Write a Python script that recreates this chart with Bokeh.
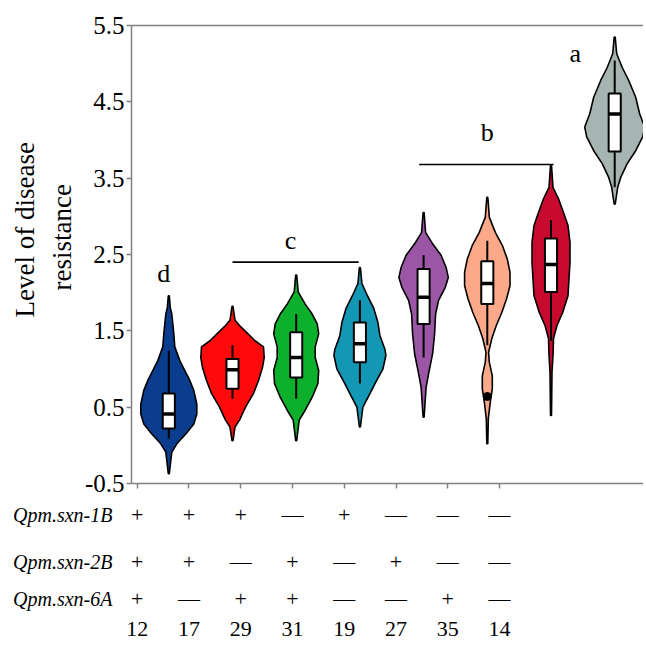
from bokeh.plotting import figure
from bokeh.models import Range1d, FixedTicker, LinearAxis, Title
from bokeh.layouts import column
from bokeh.embed import file_html
from bokeh.resources import INLINE
from bokeh.core.properties import value

# ---------------- data ----------------
counts = [12, 17, 29, 31, 19, 27, 35, 14]
qtl_names = ["Qpm.sxn-1B", "Qpm.sxn-2B", "Qpm.sxn-6A"]
qtl_1B = ["+", "+", "+", "—", "+", "—", "—", "—"]
qtl_2B = ["+", "+", "—", "+", "—", "+", "—", "—"]
qtl_6A = ["+", "—", "+", "+", "—", "—", "+", "—"]
colors = ["#0b3d8e", "#ff0a0a", "#0cb02c", "#1298b4",
          "#9b56a6", "#fca98a", "#c80a2e", "#a7b5b2"]
y_title_lines = ["Level of disease", "resistance"]

# violin profiles: (level, density half-width)
prof_12 = [(1.96, 0.5), (1.80, 1.5), (1.72, 3), (1.46, 5), (1.29, 6), (1.11, 11), (0.98, 16),
           (0.85, 21), (0.72, 25), (0.54, 28), (0.41, 28), (0.28, 25), (0.15, 17),
           (0.02, 8), (-0.09, 3), (-0.37, 0.5)]
prof_17 = [(1.82, 0.5), (1.64, 2.5), (1.57, 7), (1.50, 12.5), (1.37, 22.5), (1.29, 31), (1.15, 31.7),
           (1.02, 30), (0.85, 26), (0.68, 21), (0.50, 13), (0.33, 7), (0.24, 2.5), (0.06, 0.5)]
prof_29 = [(2.23, 0.5), (2.01, 2), (1.85, 9), (1.72, 16), (1.59, 21), (1.46, 22.5), (1.29, 19),
           (1.15, 19), (0.98, 22.5), (0.81, 21.7), (0.63, 16), (0.46, 9), (0.33, 3), (0.06, 0.5)]
prof_31 = [(2.33, 0.5), (2.12, 2), (1.96, 7.5), (1.79, 14), (1.61, 18), (1.44, 20), (1.26, 25),
           (1.18, 26), (1.00, 23), (0.83, 16), (0.65, 9), (0.50, 3), (0.24, 0.5)]
prof_19 = [(3.05, 0.5), (2.79, 2), (2.64, 9), (2.49, 17.5), (2.33, 22.5), (2.20, 24.7), (2.07, 21.7),
           (1.90, 15), (1.72, 12), (1.46, 11), (1.20, 9), (0.94, 5), (0.76, 2.5), (0.37, 0.5)]
prof_27 = [(3.25, 0.5), (2.99, 2), (2.79, 8), (2.62, 15), (2.44, 20), (2.27, 22.7), (2.09, 22.7),
           (1.92, 19.3), (1.74, 14.5), (1.57, 9), (1.40, 4.5), (1.22, 1.3), (1.09, 2),
           (0.91, 5), (0.74, 5), (0.57, 3), (0.35, 1), (0.02, 0.5)]
prof_35 = [(3.67, 0.5), (3.38, 2), (3.23, 7.5), (3.05, 12.5), (2.88, 17), (2.66, 19), (2.40, 19),
           (2.18, 18), (1.96, 17), (1.74, 11.7), (1.57, 6), (1.40, 2.5), (1.18, 2), (0.96, 1),
           (0.39, 0.5)]
prof_14 = [(5.35, 0.5), (5.13, 2), (4.95, 7.5), (4.78, 14), (4.56, 21), (4.34, 25), (4.17, 30),
           (4.04, 28), (3.86, 21), (3.69, 12.5), (3.51, 6), (3.38, 3), (3.16, 0.5)]
profiles = [prof_12, prof_17, prof_29, prof_31, prof_19, prof_27, prof_35, prof_14]

whisker_low = [0.09, 0.61, 0.61, 0.81, 1.15, 1.31, 1.37, 3.38]
q1 = [0.22, 0.74, 0.89, 1.09, 1.59, 1.85, 2.01, 3.85]
median = [0.41, 0.99, 1.15, 1.33, 1.94, 2.12, 2.37, 4.34]
q3 = [0.68, 1.13, 1.48, 1.61, 2.31, 2.41, 2.71, 4.61]
whisker_high = [1.24, 1.31, 1.72, 1.90, 2.49, 2.68, 2.95, 5.04]
outlier_group = [5]          # index of the group (count 27)
outlier_value = [0.64]

sig_letters = ["d", "c", "b", "a"]
sig_letter_x = [0.92, 2.91, 6.0, 7.38]
sig_letter_y = [2.25, 2.68, 4.10, 5.13]
sig_line_x0 = [2.0, 4.93]
sig_line_x1 = [3.98, 7.04]
sig_line_y = [2.40, 3.68]

y_ticks = [-0.5, 0.5, 1.5, 2.5, 3.5, 4.5, 5.5]

# ---------------- layout constants ----------------
PX = 63.7                      # pixels per group slot
LEFT = 131
RIGHT = 0
FRAME_W = 512
X_START = 1 - (168.3 - LEFT) / PX
X_END = X_START + FRAME_W / PX
TABLE_X0 = 0.504
TABLE_STEP = 0.8126
BOX_HALF = 0.095
SERIF = "Liberation Serif"

centers = list(range(1, len(counts) + 1))
table_x = [TABLE_X0 + TABLE_STEP * i for i in range(len(counts))]
xr = Range1d(X_START, X_END)

p = figure(frame_width=FRAME_W, frame_height=458,
           x_range=xr, y_range=Range1d(-0.5, 5.5),
           output_backend="svg", toolbar_location=None,
           min_border_left=LEFT, min_border_right=RIGHT, min_border_top=25, min_border_bottom=16)
p.outline_line_color = None
p.grid.visible = False

# violins
xs, ys = [], []
for c, prof in zip(centers, profiles):
    lv = [v for v, _ in prof]
    hw = [w / PX for _, w in prof]
    xs.append([c + w for w in hw] + [c - w for w in reversed(hw)])
    ys.append(lv + lv[::-1])
p.patches(xs, ys, fill_color=colors, line_color="black", line_width=1.6)

# whiskers, boxes, medians
p.segment(x0=centers, y0=whisker_low, x1=centers, y1=whisker_high, line_color="black", line_width=2)
p.quad(left=[c - BOX_HALF for c in centers], right=[c + BOX_HALF for c in centers],
       bottom=q1, top=q3, fill_color="white", line_color="black", line_width=2)
p.segment(x0=[c - BOX_HALF for c in centers], y0=median, x1=[c + BOX_HALF for c in centers], y1=median,
          line_color="black", line_width=3.5)
p.scatter(x=[centers[g] for g in outlier_group], y=outlier_value, size=8, color="black")

# significance annotations
p.segment(x0=sig_line_x0, y0=sig_line_y, x1=sig_line_x1, y1=sig_line_y, line_color="black", line_width=1.6)
p.text(x=sig_letter_x, y=sig_letter_y, text=sig_letters, text_font=value(SERIF),
       text_font_size="26px", text_align="center", text_baseline="middle", text_color="black")

# axes
p.yaxis.ticker = FixedTicker(ticks=y_ticks)
p.yaxis.major_label_overrides = {t: f"{t:.1f}" for t in y_ticks}
p.yaxis.major_label_text_font = SERIF
p.yaxis.major_label_text_font_size = "25px"
p.yaxis.major_label_text_color = "black"
p.yaxis.major_label_standoff = 2
p.yaxis.minor_tick_line_color = None
p.yaxis.major_tick_in = 0
p.yaxis.major_tick_out = 5

p.xaxis.ticker = FixedTicker(ticks=table_x)
p.xaxis.major_label_text_color = None
p.xaxis.major_label_text_font_size = "1px"
p.xaxis.minor_tick_line_color = None
p.xaxis.major_tick_in = 0
p.xaxis.major_tick_out = 5
for ax in (p.xaxis, p.yaxis):
    ax.axis_line_color = "#808080"
    ax.axis_line_width = 1.5
    ax.major_tick_line_color = "#808080"
    ax.major_tick_line_width = 1.5

top = LinearAxis(ticker=FixedTicker(ticks=[]), axis_line_color="#808080", axis_line_width=1.5,
                 major_label_text_font_size="1px", major_tick_line_color=None, minor_tick_line_color=None)
p.add_layout(top, "above")

# y-axis title, two lines (inner line added first); offset measured up from the frame bottom
for line, stand, off in zip(reversed(y_title_lines), [9, 2], [193, 166]):
    p.add_layout(Title(text=line, align="left", offset=off, standoff=stand,
                       text_font=SERIF, text_font_size="27px", text_font_style="normal",
                       text_color="black"), "left")

# ---------------- genotype table ----------------
TABLE_H = 116
t = figure(frame_width=FRAME_W, frame_height=TABLE_H, x_range=xr,
           y_range=Range1d(TABLE_H, 0), output_backend="svg", toolbar_location=None,
           min_border_left=LEFT, min_border_right=RIGHT,
           min_border_top=0, min_border_bottom=34)
t.outline_line_color = None
t.grid.visible = False

row_y = [15, 62, 99]
for ry, row in zip(row_y, [qtl_1B, qtl_2B, qtl_6A]):
    t.text(x=table_x, y=[ry] * len(row), text=row, text_font=value(SERIF), text_font_size="22px",
           text_align="center", text_baseline="middle", text_color="black")

# genotype names on the left axis
t.yaxis.ticker = FixedTicker(ticks=row_y)
t.yaxis.major_label_overrides = {ry: name for ry, name in zip(row_y, qtl_names)}
t.yaxis.major_label_text_font = SERIF
t.yaxis.major_label_text_font_style = "italic"
t.yaxis.major_label_text_font_size = "20px"
t.yaxis.major_label_text_color = "black"
t.yaxis.axis_line_color = None
t.yaxis.major_tick_line_color = None
t.yaxis.minor_tick_line_color = None
t.yaxis.major_tick_out = 0
t.yaxis.major_tick_in = 0
t.yaxis.major_label_standoff = 19

# line counts on the bottom axis
t.xaxis.ticker = FixedTicker(ticks=table_x)
t.xaxis.major_label_overrides = {x: str(c) for x, c in zip(table_x, counts)}
t.xaxis.major_label_text_font = SERIF
t.xaxis.major_label_text_font_size = "22px"
t.xaxis.major_label_text_color = "black"
t.xaxis.axis_line_color = None
t.xaxis.major_tick_line_color = None
t.xaxis.minor_tick_line_color = None
t.xaxis.major_tick_out = 0
t.xaxis.major_tick_in = 0
t.xaxis.major_label_standoff = 6

layout = column(p, t)
open("out.html", "w").write(file_html(layout, INLINE))
